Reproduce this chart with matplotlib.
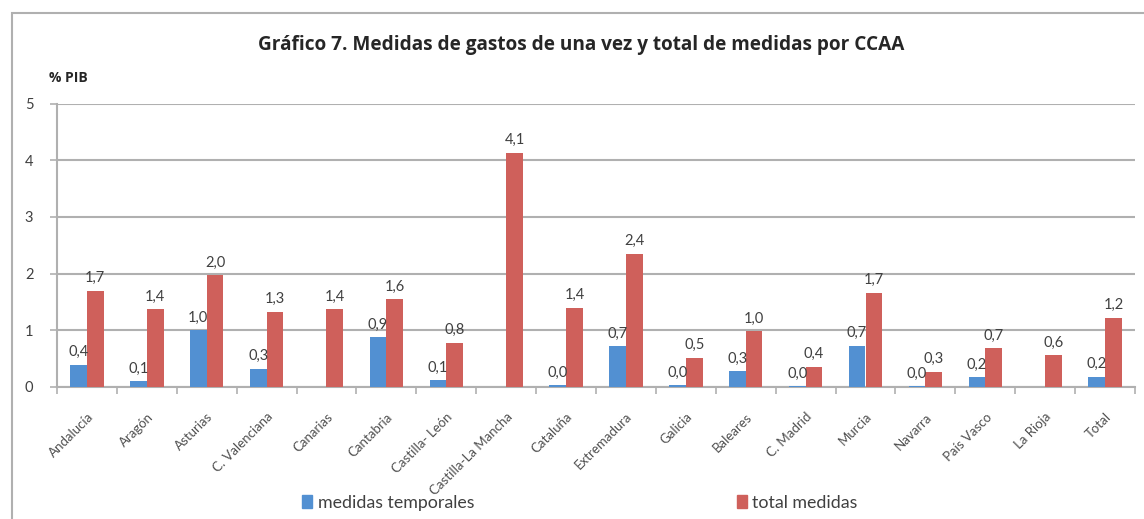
import matplotlib
matplotlib.use("Agg")
import matplotlib.pyplot as plt
import numpy as np
from matplotlib.patches import Rectangle, Patch

plt.rcParams['font.family'] = ['Lato', 'DejaVu Sans']

categories = ["Andalucía", "Aragón", "Asturias", "C. Valenciana", "Canarias", "Cantabria",
              "Castilla- León", "Castilla-La Mancha", "Cataluña", "Extremadura", "Galicia",
              "Baleares", "C. Madrid", "Murcia", "Navarra", "País Vasco", "La Rioja", "Total"]
temporales = [0.39, 0.10, 1.00, 0.32, np.nan, 0.88, 0.12, np.nan, 0.03, 0.72, 0.03,
              0.28, 0.01, 0.73, 0.01, 0.17, np.nan, 0.18]
total = [1.70, 1.37, 1.97, 1.33, 1.37, 1.55, 0.78, 4.13, 1.40, 2.35, 0.52,
         0.98, 0.36, 1.66, 0.27, 0.68, 0.56, 1.22]
yticks = [0, 1, 2, 3, 4, 5]

blue = "#5290D2"
red = "#CF605B"
txt = "#404040"
grid = "#B0B0B0"

fig = plt.figure(figsize=(11.44, 5.19), dpi=100)
ax = fig.add_axes([57 / 1144, 1 - 387 / 519, (1135 - 57) / 1144, (387 - 103.5) / 519])

x = np.arange(len(categories))
w = 0.28
ax.bar(x - w / 2, temporales, w, color=blue, zorder=3)
ax.bar(x + w / 2, total, w, color=red, zorder=3)

for i, (t, v) in enumerate(zip(temporales, total)):
    if not np.isnan(t):
        ax.text(i - w / 2, t + 0.1, f"{t:.1f}".replace(".", ","), ha="center",
                va="bottom", fontsize=10.5, color=txt, zorder=4)
    ax.text(i + w / 2, v + 0.1, f"{v:.1f}".replace(".", ","), ha="center",
            va="bottom", fontsize=10.5, color=txt, zorder=4)

ax.set_xlim(-0.5, len(categories) - 0.5)
ax.set_ylim(0, 5)
ax.set_yticks(yticks)
ax.set_yticklabels([str(t) for t in yticks], fontsize=10.5, color=txt)
ax.yaxis.grid(True, color=grid, linewidth=1.5, zorder=0)
ax.set_axisbelow(True)

ax.set_xticks(np.arange(-0.5, len(categories), 1.0))
ax.set_xticklabels([])
ax.set_xticks(x, minor=True)
ax.set_xticklabels(categories, minor=True, rotation=45, ha="right", rotation_mode="anchor",
                   fontsize=9.5, color="#505050")
ax.tick_params(axis="x", which="minor", length=0, pad=17)
ax.tick_params(axis="x", which="major", length=5, width=1.2, color=grid, direction="out")
ax.tick_params(axis="y", length=5, width=1.2, color=grid, pad=12)

for s in ["top", "right"]:
    ax.spines[s].set_visible(False)
ax.spines["left"].set_color(grid)
ax.spines["bottom"].set_color(grid)
ax.spines["left"].set_linewidth(1.5)
ax.spines["bottom"].set_linewidth(1.5)

fig.text(581 / 1144, 0.913, "Gráfico 7. Medidas de gastos de una vez y total de medidas por CCAA",
         ha="center", va="center", fontsize=13.7, fontweight="bold", color="#262626",
         family=["Open Sans", "DejaVu Sans"])
fig.text(49 / 1144, 0.85, "% PIB", ha="left", va="center", fontsize=10, fontweight="bold", color="#262626",
         family=["Open Sans", "DejaVu Sans"])

handles = [Patch(color=blue, label="medidas temporales"), Patch(color=red, label="total medidas")]
fig.legend(handles=handles, loc="center", bbox_to_anchor=(0.507, 0.031), ncol=2, frameon=False,
           fontsize=12.8, columnspacing=14.8, handlelength=0.55, handleheight=0.7, handletextpad=0.3,
           labelcolor=txt)

fig.patches.append(Rectangle((12 / 1144, -0.1), 1.2, 1 - 13 / 519 + 0.1, transform=fig.transFigure,
                             fill=False, edgecolor="#B0B0B0", linewidth=1.5))

fig.savefig("out.png", dpi=100)
